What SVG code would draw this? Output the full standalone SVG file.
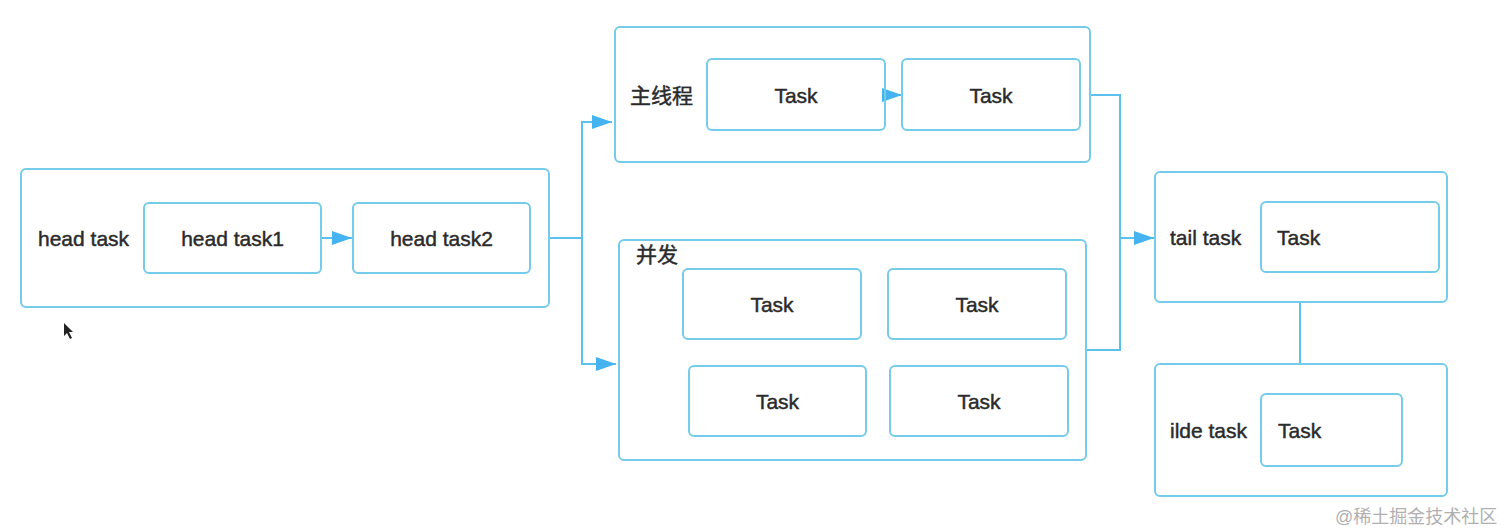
<svg xmlns="http://www.w3.org/2000/svg" width="1512" height="530" viewBox="0 0 1512 530">
<style>
.box{fill:none;stroke:#74cbea;stroke-width:2}
.t{font-family:"Liberation Sans","Noto Sans CJK SC",sans-serif;font-size:21px;fill:#2b2b2b;stroke:#2b2b2b;stroke-width:0.45;dominant-baseline:central}
.c{text-anchor:middle}
.ln{fill:none;stroke:#5cc0ec;stroke-width:2}
</style>
<defs>
<marker id="ahb" viewBox="0 0 20 14" refX="20" refY="7" markerWidth="20" markerHeight="14" markerUnits="userSpaceOnUse" orient="auto">
<path d="M0,0 L20,7 L0,14 z" fill="#45b3ef"/>
</marker>
</defs>
<rect width="1512" height="530" fill="#ffffff"/>

<g id="connectors">
<path class="ln" d="M549,238 H582 V122 H612" marker-end="url(#ahb)"/>
<path class="ln" d="M582,238 V364 H616" marker-end="url(#ahb)"/>
<path class="ln" d="M321,238 H352" marker-end="url(#ahb)"/>
<path class="ln" d="M885,95 H902" marker-end="url(#ahb)"/>
<path class="ln" d="M1090,95 H1120 V350 H1086"/>
<path class="ln" d="M1120,238 H1154" marker-end="url(#ahb)"/>
<path class="ln" d="M1300,302 V364"/>
</g>

<g id="head">
<rect class="box" x="21" y="169" width="528" height="138" rx="5"/>
<text class="t" x="38" y="238">head task</text>
</g>
<g id="head-task1">
<rect class="box" x="144" y="203" width="177" height="70" rx="5"/>
<text class="t c" x="232.5" y="238">head task1</text>
</g>
<g id="head-task2">
<rect class="box" x="353" y="203" width="177" height="70" rx="5"/>
<text class="t c" x="441.5" y="238">head task2</text>
</g>

<g id="main-thread">
<rect class="box" x="615" y="27" width="475" height="135" rx="5"/>
<text class="t" x="630" y="95">主线程</text>
</g>
<g id="main-task1">
<rect class="box" x="707" y="59" width="178" height="71" rx="5"/>
<text class="t c" x="796" y="95">Task</text>
</g>
<g id="main-task2">
<rect class="box" x="902" y="59" width="178" height="71" rx="5"/>
<text class="t c" x="991" y="95">Task</text>
</g>

<g id="concurrent">
<rect class="box" x="619" y="240" width="467" height="220" rx="5"/>
<text class="t" x="636" y="254">并发</text>
</g>
<g id="c-task1">
<rect class="box" x="683" y="269" width="178" height="70" rx="5"/>
<text class="t c" x="772" y="304">Task</text>
</g>
<g id="c-task2">
<rect class="box" x="888" y="269" width="178" height="70" rx="5"/>
<text class="t c" x="977" y="304">Task</text>
</g>
<g id="c-task3">
<rect class="box" x="689" y="366" width="177" height="70" rx="5"/>
<text class="t c" x="777.5" y="401">Task</text>
</g>
<g id="c-task4">
<rect class="box" x="890" y="366" width="178" height="70" rx="5"/>
<text class="t c" x="979" y="401">Task</text>
</g>

<g id="tail">
<rect class="box" x="1155" y="172" width="292" height="130" rx="5"/>
<text class="t" x="1170" y="237">tail task</text>
</g>
<g id="tail-task">
<rect class="box" x="1261" y="202" width="178" height="70" rx="5"/>
<text class="t" x="1277" y="237">Task</text>
</g>

<g id="idle">
<rect class="box" x="1155" y="364" width="292" height="132" rx="5"/>
<text class="t" x="1170" y="430">ilde task</text>
</g>
<g id="idle-task">
<rect class="box" x="1261" y="394" width="141" height="72" rx="5"/>
<text class="t" x="1278" y="430">Task</text>
</g>

<path d="M64,323 L64,336 L67,333 L70,339 L72,338 L69,332 L73,332 z" fill="#222"/>
<text x="1335" y="517" style="font-family:'Liberation Sans','Noto Sans CJK SC',sans-serif;font-size:18px;fill:#b0b0b0;dominant-baseline:central">@稀土掘金技术社区</text>
</svg>
